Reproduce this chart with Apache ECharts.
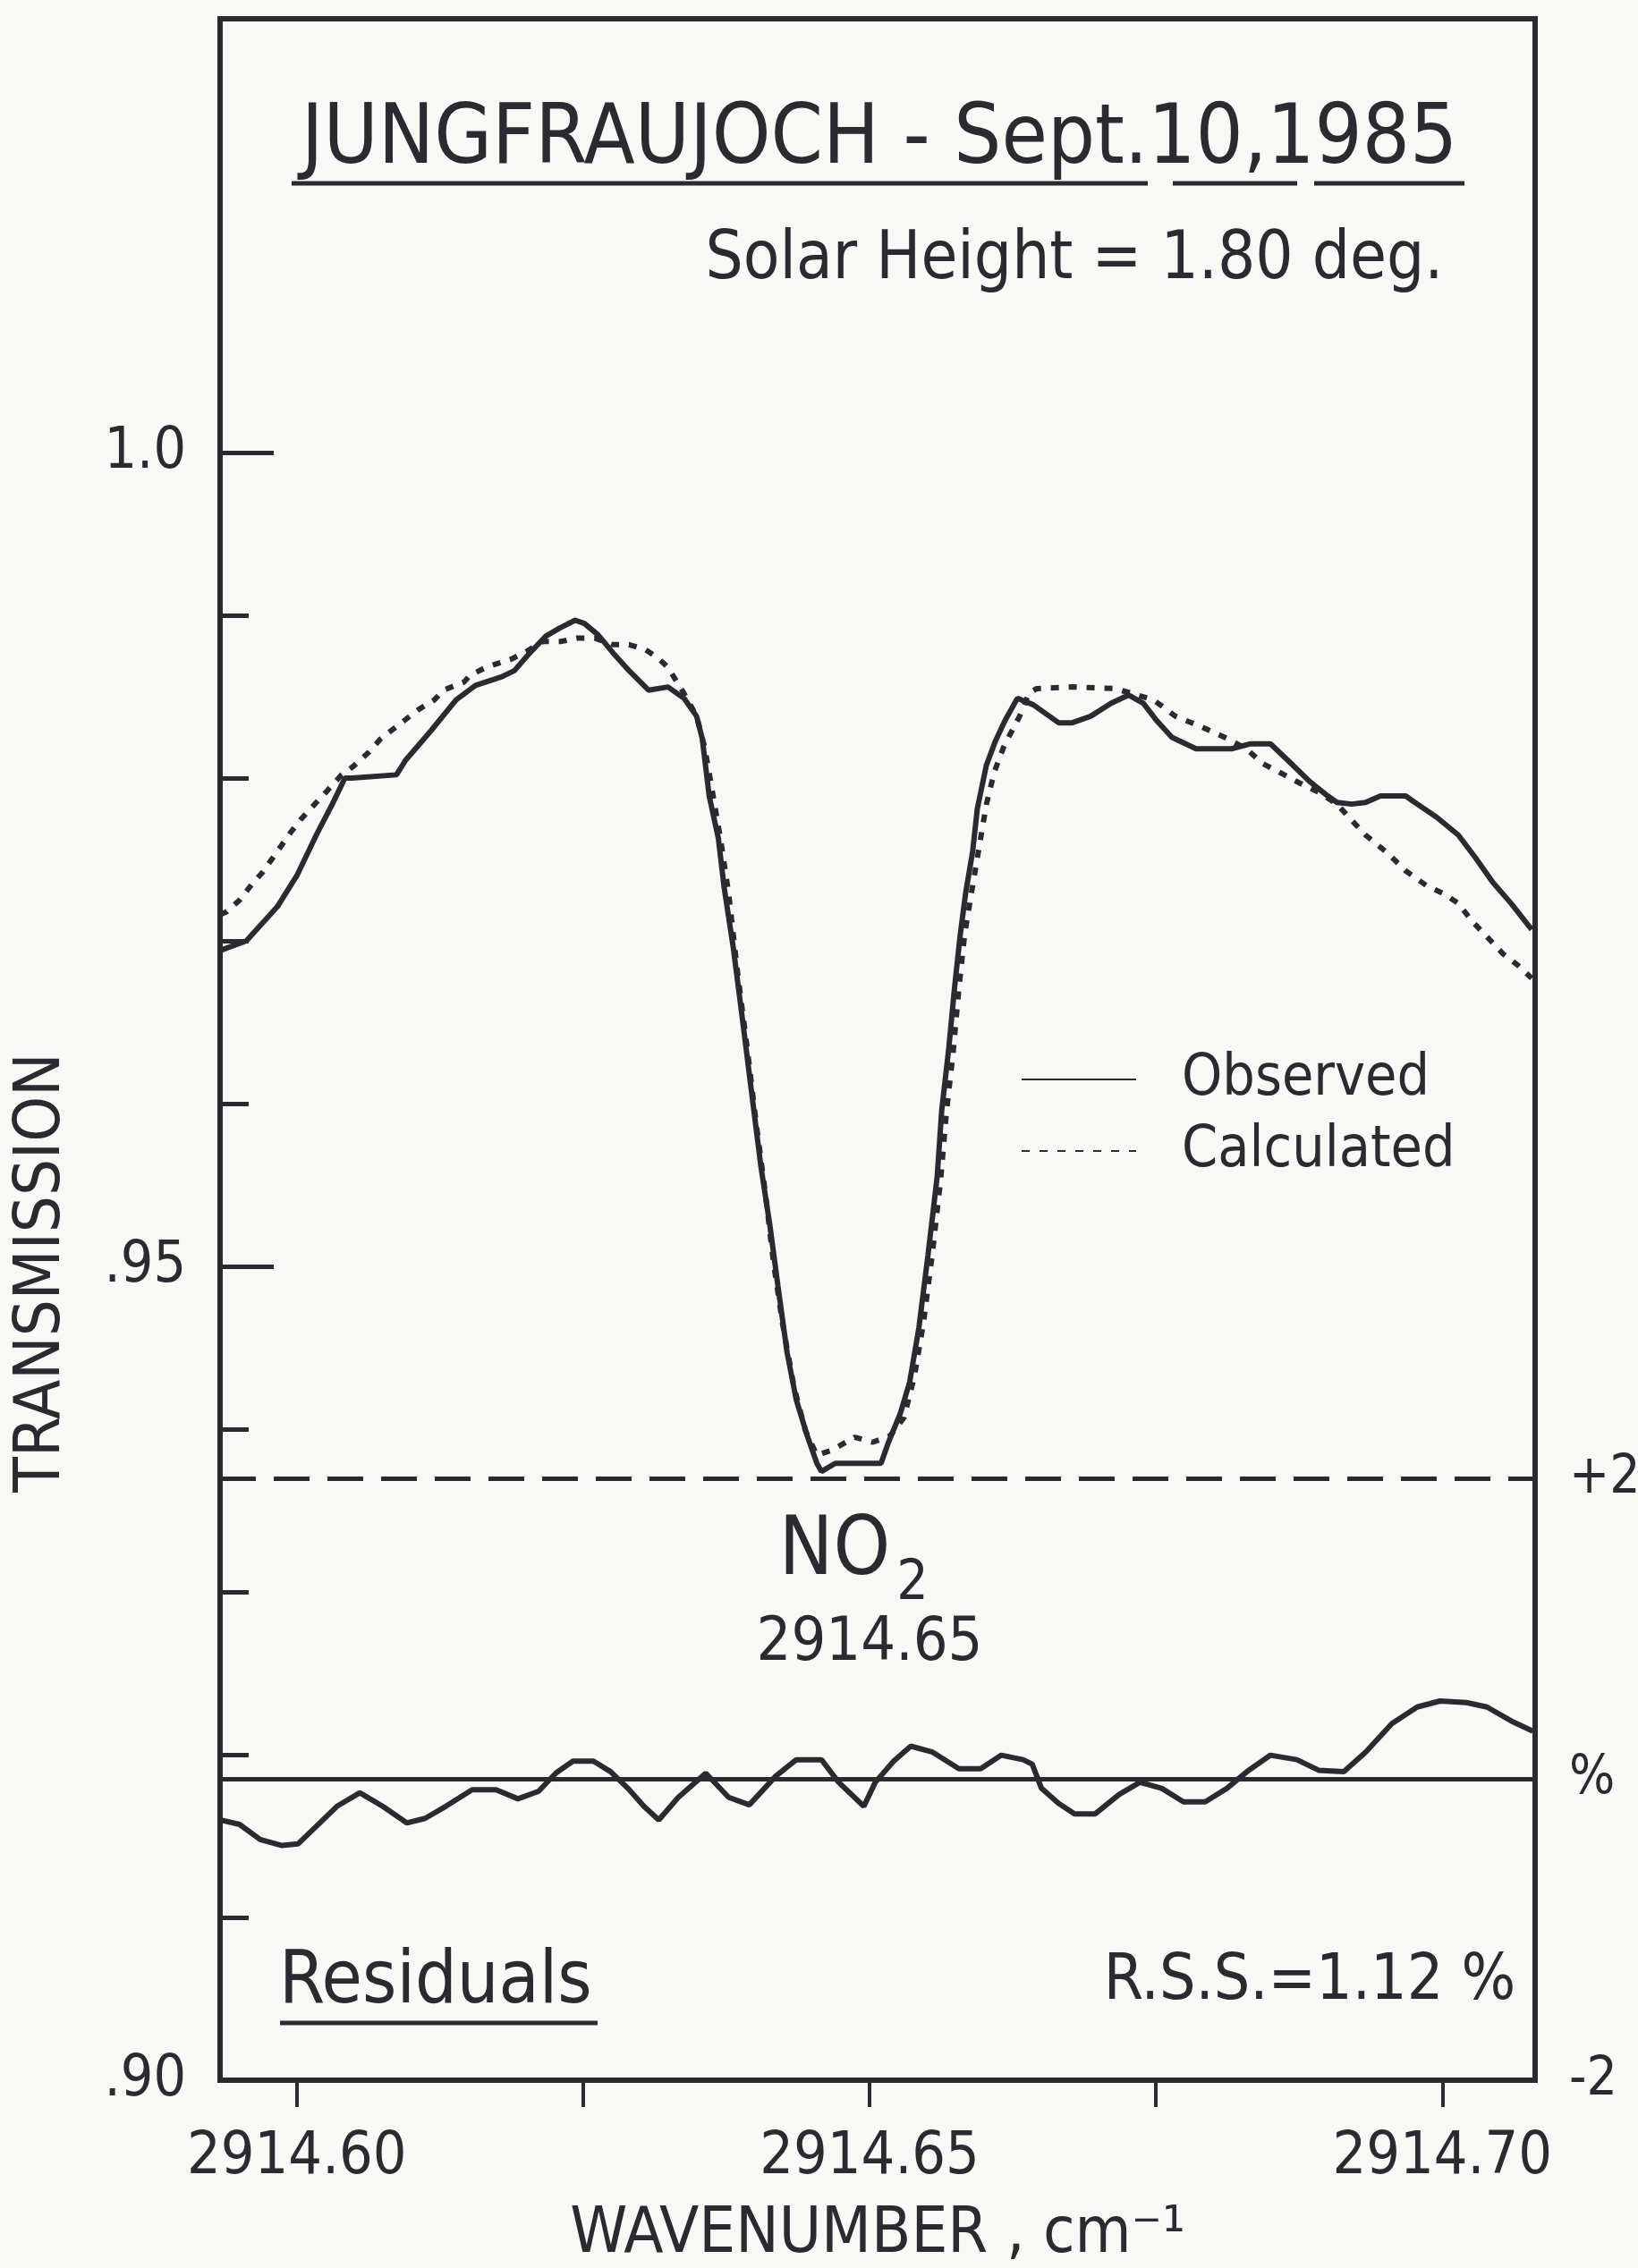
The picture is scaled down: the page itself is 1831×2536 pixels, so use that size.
<!DOCTYPE html>
<html>
<head>
<meta charset="utf-8">
<script src="https://cdn.jsdelivr.net/npm/echarts@6/dist/echarts.min.js"></script>
<style>
  html, body { margin: 0; padding: 0; background: #f8f8f6; }
  #chart { width: 1831px; height: 2536px; }
</style>
</head>
<body>
<div id="chart"></div>
<script>
// observed spectrum (solid)
var wnObs = [2914.5933, 2914.5956, 2914.5983, 2914.6000, 2914.6017, 2914.6031, 2914.6042, 2914.6048, 2914.6087, 2914.6095,
  2914.6117, 2914.6139, 2914.6156, 2914.6178, 2914.6190, 2914.6201, 2914.6217, 2914.6229, 2914.6243, 2914.6251,
  2914.6263, 2914.6276, 2914.6290, 2914.6307, 2914.6324, 2914.6338, 2914.6349, 2914.6354, 2914.6360, 2914.6368,
  2914.6373, 2914.6381, 2914.6389, 2914.6397, 2914.6405, 2914.6413, 2914.6420, 2914.6428, 2914.6436, 2914.6446,
  2914.6454, 2914.6458, 2914.6470, 2914.6510, 2914.6516, 2914.6527, 2914.6535, 2914.6543, 2914.6551, 2914.6559,
  2914.6563, 2914.6569, 2914.6574, 2914.6579, 2914.6584, 2914.6590, 2914.6594, 2914.6602, 2914.6610, 2914.6618,
  2914.6629, 2914.6643, 2914.6665, 2914.6677, 2914.6693, 2914.6711, 2914.6726, 2914.6739, 2914.6751, 2914.6764,
  2914.6785, 2914.6816, 2914.6832, 2914.6850, 2914.6865, 2914.6884, 2914.6900, 2914.6908, 2914.6921, 2914.6933,
  2914.6946, 2914.6968, 2914.6976, 2914.6995, 2914.7014, 2914.7029, 2914.7044, 2914.7060, 2914.7078]
var obsT = [0.9694, 0.9700, 0.9721, 0.9740, 0.9765, 0.9784, 0.9800, 0.9800, 0.9802, 0.9811,
  0.9829, 0.9848, 0.9857, 0.9862, 0.9866, 0.9875, 0.9887, 0.9892, 0.9897, 0.9895,
  0.9888, 0.9877, 0.9866, 0.9854, 0.9856, 0.9849, 0.9838, 0.9824, 0.9789, 0.9763,
  0.9733, 0.9696, 0.9652, 0.9607, 0.9562, 0.9525, 0.9488, 0.9447, 0.9418, 0.9395,
  0.9379, 0.9374, 0.9379, 0.9379, 0.9391, 0.9410, 0.9429, 0.9462, 0.9507, 0.9555,
  0.9596, 0.9633, 0.9670, 0.9703, 0.9730, 0.9755, 0.9781, 0.9808, 0.9823, 0.9835,
  0.9849, 0.9845, 0.9834, 0.9834, 0.9838, 0.9846, 0.9851, 0.9846, 0.9835, 0.9825,
  0.9818, 0.9818, 0.9821, 0.9821, 0.9811, 0.9798, 0.9789, 0.9785, 0.9784, 0.9785,
  0.9789, 0.9789, 0.9785, 0.9776, 0.9765, 0.9751, 0.9736, 0.9723, 0.9707]

// calculated spectrum (dotted)
var wnCalc = [2914.5933, 2914.5939, 2914.5950, 2914.5961, 2914.5970, 2914.5979, 2914.5986, 2914.5995, 2914.6004, 2914.6017,
  2914.6025, 2914.6039, 2914.6049, 2914.6063, 2914.6073, 2914.6084, 2914.6095, 2914.6106, 2914.6120, 2914.6128,
  2914.6146, 2914.6151, 2914.6165, 2914.6178, 2914.6187, 2914.6201, 2914.6215, 2914.6231, 2914.6245, 2914.6260,
  2914.6276, 2914.6290, 2914.6304, 2914.6315, 2914.6324, 2914.6331, 2914.6338, 2914.6349, 2914.6356, 2914.6362,
  2914.6370, 2914.6377, 2914.6385, 2914.6393, 2914.6401, 2914.6409, 2914.6416, 2914.6424, 2914.6434, 2914.6444,
  2914.6454, 2914.6467, 2914.6487, 2914.6503, 2914.6518, 2914.6530, 2914.6539, 2914.6547, 2914.6555, 2914.6562,
  2914.6567, 2914.6573, 2914.6578, 2914.6583, 2914.6590, 2914.6596, 2914.6602, 2914.6609, 2914.6617, 2914.6625,
  2914.6631, 2914.6639, 2914.6646, 2914.6677, 2914.6714, 2914.6729, 2914.6748, 2914.6767, 2914.6788, 2914.6810,
  2914.6829, 2914.6843, 2914.6862, 2914.6878, 2914.6893, 2914.6908, 2914.6921, 2914.6933, 2914.6952, 2914.6968,
  2914.6986, 2914.7001, 2914.7014, 2914.7026, 2914.7041, 2914.7053, 2914.7066, 2914.7078]
var calcT = [0.9716, 0.9718, 0.9725, 0.9735, 0.9742, 0.9751, 0.9758, 0.9767, 0.9775, 0.9785,
  0.9791, 0.9802, 0.9807, 0.9816, 0.9824, 0.9830, 0.9836, 0.9842, 0.9848, 0.9854,
  0.9859, 0.9863, 0.9868, 0.9871, 0.9873, 0.9878, 0.9884, 0.9884, 0.9886, 0.9886,
  0.9882, 0.9882, 0.9879, 0.9874, 0.9868, 0.9860, 0.9852, 0.9838, 0.9819, 0.9795,
  0.9762, 0.9729, 0.9679, 0.9635, 0.9588, 0.9545, 0.9503, 0.9465, 0.9426, 0.9399,
  0.9384, 0.9387, 0.9395, 0.9392, 0.9396, 0.9407, 0.9432, 0.9465, 0.9509, 0.9553,
  0.9594, 0.9632, 0.9671, 0.9704, 0.9734, 0.9759, 0.9784, 0.9804, 0.9819, 0.9830,
  0.9838, 0.9852, 0.9855, 0.9856, 0.9855, 0.9852, 0.9848, 0.9838, 0.9832, 0.9825,
  0.9818, 0.9809, 0.9802, 0.9796, 0.9791, 0.9784, 0.9774, 0.9765, 0.9754, 0.9743,
  0.9734, 0.9729, 0.9723, 0.9712, 0.9701, 0.9692, 0.9685, 0.9677]

// residuals, percent
var wnRes = [2914.5933, 2914.5950, 2914.5968, 2914.5987, 2914.6001, 2914.6016, 2914.6035, 2914.6055, 2914.6075, 2914.6096,
  2914.6112, 2914.6130, 2914.6153, 2914.6174, 2914.6193, 2914.6211, 2914.6226, 2914.6241, 2914.6259, 2914.6274,
  2914.6289, 2914.6303, 2914.6316, 2914.6333, 2914.6357, 2914.6377, 2914.6395, 2914.6418, 2914.6436, 2914.6458,
  2914.6473, 2914.6495, 2914.6505, 2914.6521, 2914.6536, 2914.6555, 2914.6578, 2914.6597, 2914.6615, 2914.6634,
  2914.6642, 2914.6650, 2914.6665, 2914.6679, 2914.6697, 2914.6718, 2914.6736, 2914.6755, 2914.6774, 2914.6793,
  2914.6812, 2914.6831, 2914.6850, 2914.6873, 2914.6892, 2914.6914, 2914.6933, 2914.6956, 2914.6978, 2914.6998,
  2914.7021, 2914.7039, 2914.7062, 2914.7079]
var resPct = [-0.27, -0.30, -0.40, -0.44, -0.43, -0.32, -0.18, -0.09, -0.18, -0.29,
  -0.26, -0.18, -0.07, -0.07, -0.13, -0.08, 0.04, 0.12, 0.12, 0.05,
  -0.06, -0.18, -0.27, -0.12, 0.04, -0.12, -0.17, 0.02, 0.13, 0.13,
  -0.02, -0.18, -0.02, 0.12, 0.22, 0.18, 0.07, 0.07, 0.16, 0.13,
  0.10, -0.06, -0.16, -0.23, -0.23, -0.10, -0.02, -0.06, -0.15, -0.15,
  -0.06, 0.06, 0.16, 0.13, 0.06, 0.05, 0.18, 0.37, 0.48, 0.52,
  0.51, 0.48, 0.38, 0.32]

var xTicks = [2914.60, 2914.625, 2914.65, 2914.675, 2914.70]
var xLabels = [2914.60, 2914.65, 2914.70]
var yMajorTicks = [0.90, 0.95, 1.00]
var yMinorTicks = [0.91, 0.92, 0.93, 0.94, 0.96, 0.97, 0.98, 0.99]
var yLabelText = ['.90', '.95', '1.0']
var resTicks = [-2, 0, 2]
var resLabelText = ['-2', '%', '+2']

var INK = '#2a2a30'
var FONT = "'DejaVu Sans Condensed', 'Liberation Sans Narrow', 'DejaVu Sans', sans-serif"

function pairs(xs, ys) {
  return xs.map(function(x, i) { return [x, ys[i]] })
}

var myChart = echarts.init(document.getElementById('chart'))

var option = {
  backgroundColor: '#f8f8f6',
  animation: false,
  grid: {
    left: 246,
    right: 115,
    top: 21,
    bottom: 210,
    outerBoundsMode: 'none',
    containLabel: false,
    show: true,
    borderColor: INK,
    borderWidth: 6,
    backgroundColor: 'transparent'
  },
  legend: {
    data: ['Observed', 'Calculated'],
    orient: 'vertical',
    left: 1136,
    top: 1170,
    itemWidth: 128,
    itemHeight: 20,
    itemGap: 16,
    itemStyle: { color: 'transparent', borderWidth: 0, opacity: 0 },
    textStyle: {
      color: INK,
      fontSize: 64,
      lineHeight: 64,
      fontFamily: FONT,
      padding: [0, 0, 0, 46]
    }
  },
  xAxis: {
    type: 'value',
    min: 2914.5933,
    max: 2914.7081,
    axisLine: { show: false, onZero: false },
    splitLine: { show: false },
    axisTick: {
      show: true,
      customValues: xTicks,
      inside: false,
      length: 30,
      lineStyle: { color: INK, width: 4 }
    },
    axisLabel: {
      customValues: xLabels,
      formatter: function(v) { return v.toFixed(2) },
      color: INK,
      fontSize: 66,
      fontFamily: FONT,
      margin: 54
    },
    name: 'WAVENUMBER , cm\u207B\u00B9',
    nameLocation: 'middle',
    nameGap: 137,
    nameTextStyle: { color: INK, fontSize: 72, fontFamily: FONT }
  },
  yAxis: [
    {
      // major ticks with labels
      type: 'value',
      position: 'left',
      offset: 0,
      min: 0.90,
      max: 1.02665,
      axisLine: { show: false, onZero: false },
      splitLine: { show: false },
      axisTick: {
        show: true,
        customValues: yMajorTicks,
        inside: true,
        length: 60,
        lineStyle: { color: INK, width: 5 }
      },
      axisLabel: {
        customValues: yMajorTicks,
        formatter: function(v) {
          var i = yMajorTicks.findIndex(function(t) { return Math.abs(t - v) < 1e-6 })
          return i >= 0 ? yLabelText[i] : ''
        },
        color: INK,
        fontSize: 64,
        fontFamily: FONT,
        margin: 38
      }
    },
    {
      // minor ticks
      type: 'value',
      position: 'left',
      offset: 0,
      min: 0.90,
      max: 1.02665,
      axisLine: { show: false, onZero: false },
      splitLine: { show: false },
      axisTick: {
        show: true,
        customValues: yMinorTicks,
        inside: true,
        length: 32,
        lineStyle: { color: INK, width: 5 }
      },
      axisLabel: { show: false }
    },
    {
      // residual scale, percent
      type: 'value',
      position: 'right',
      min: -2,
      max: 11.70,
      axisLine: { show: false, onZero: false },
      splitLine: { show: false },
      axisTick: { show: false },
      axisLabel: {
        customValues: resTicks,
        formatter: function(v) {
          var i = resTicks.indexOf(Math.round(v))
          return i >= 0 ? resLabelText[i] : ''
        },
        color: INK,
        fontSize: 60,
        fontFamily: FONT,
        margin: 38
      }
    }
  ],
  series: [
    {
      name: 'Observed',
      type: 'line',
      symbol: 'none',
      data: pairs(wnObs, obsT),
      lineStyle: { color: INK, width: 6 },
      itemStyle: { color: INK },
      z: 4
    },
    {
      name: 'Calculated',
      type: 'line',
      symbol: 'none',
      data: pairs(wnCalc, calcT),
      lineStyle: { color: INK, width: 6, type: [9, 11] },
      itemStyle: { color: INK },
      z: 3
    },
    {
      name: 'Residuals',
      type: 'line',
      yAxisIndex: 2,
      symbol: 'none',
      data: pairs(wnRes, resPct),
      lineStyle: { color: INK, width: 6 },
      itemStyle: { color: INK },
      markLine: {
        silent: true,
        symbol: 'none',
        label: { show: false },
        lineStyle: { color: INK, width: 5 },
        data: [
          { yAxis: 2, lineStyle: { type: [40, 20], color: INK, width: 5 } },
          { yAxis: 0, lineStyle: { type: 'solid', color: INK, width: 5 } }
        ]
      }
    }
  ],
  graphic: [
    {
      type: 'text', x: 983, y: 158,
      style: { text: 'JUNGFRAUJOCH - Sept.10,1985', fill: INK, fontSize: 93, fontFamily: FONT,
        textAlign: 'center', align: 'center', textVerticalAlign: 'middle', verticalAlign: 'middle' }
    },
    { type: 'line', shape: { x1: 326, y1: 205, x2: 1283, y2: 205 }, style: { stroke: INK, lineWidth: 5 } },
    { type: 'line', shape: { x1: 1311, y1: 205, x2: 1450, y2: 205 }, style: { stroke: INK, lineWidth: 5 } },
    { type: 'line', shape: { x1: 1469, y1: 205, x2: 1637, y2: 205 }, style: { stroke: INK, lineWidth: 5 } },
    {
      type: 'text', x: 1201, y: 292,
      style: { text: 'Solar Height = 1.80 deg.', fill: INK, fontSize: 74, fontFamily: FONT,
        textAlign: 'center', align: 'center', textVerticalAlign: 'middle', verticalAlign: 'middle' }
    },
    {
      type: 'text', x: 47, y: 1423, rotation: Math.PI / 2,
      style: { text: 'TRANSMISSION', fill: INK, fontSize: 72, fontFamily: FONT,
        textAlign: 'center', align: 'center', textVerticalAlign: 'middle', verticalAlign: 'middle' }
    },
    {
      type: 'text', x: 933, y: 1737,
      style: { text: 'NO', fill: INK, fontSize: 90, fontFamily: FONT,
        textAlign: 'center', align: 'center', textVerticalAlign: 'middle', verticalAlign: 'middle' }
    },
    {
      type: 'text', x: 1020, y: 1772,
      style: { text: '2', fill: INK, fontSize: 62, fontFamily: FONT,
        textAlign: 'center', align: 'center', textVerticalAlign: 'middle', verticalAlign: 'middle' }
    },
    {
      type: 'text', x: 972, y: 1838,
      style: { text: '2914.65', fill: INK, fontSize: 68, fontFamily: FONT,
        textAlign: 'center', align: 'center', textVerticalAlign: 'middle', verticalAlign: 'middle' }
    },
    {
      type: 'text', x: 312, y: 2218,
      style: { text: 'Residuals', fill: INK, fontSize: 82, fontFamily: FONT,
        textAlign: 'left', align: 'left', textVerticalAlign: 'middle', verticalAlign: 'middle' }
    },
    { type: 'line', shape: { x1: 313, y1: 2262, x2: 668, y2: 2262 }, style: { stroke: INK, lineWidth: 5 } },
    {
      type: 'text', x: 1464, y: 2217,
      style: { text: 'R.S.S.=1.12 %', fill: INK, fontSize: 71, fontFamily: FONT,
        textAlign: 'center', align: 'center', textVerticalAlign: 'middle', verticalAlign: 'middle' }
    }
  ]
}

myChart.setOption(option)
window.onresize = function() {
  myChart.resize()
}
</script>
</body>
</html>
